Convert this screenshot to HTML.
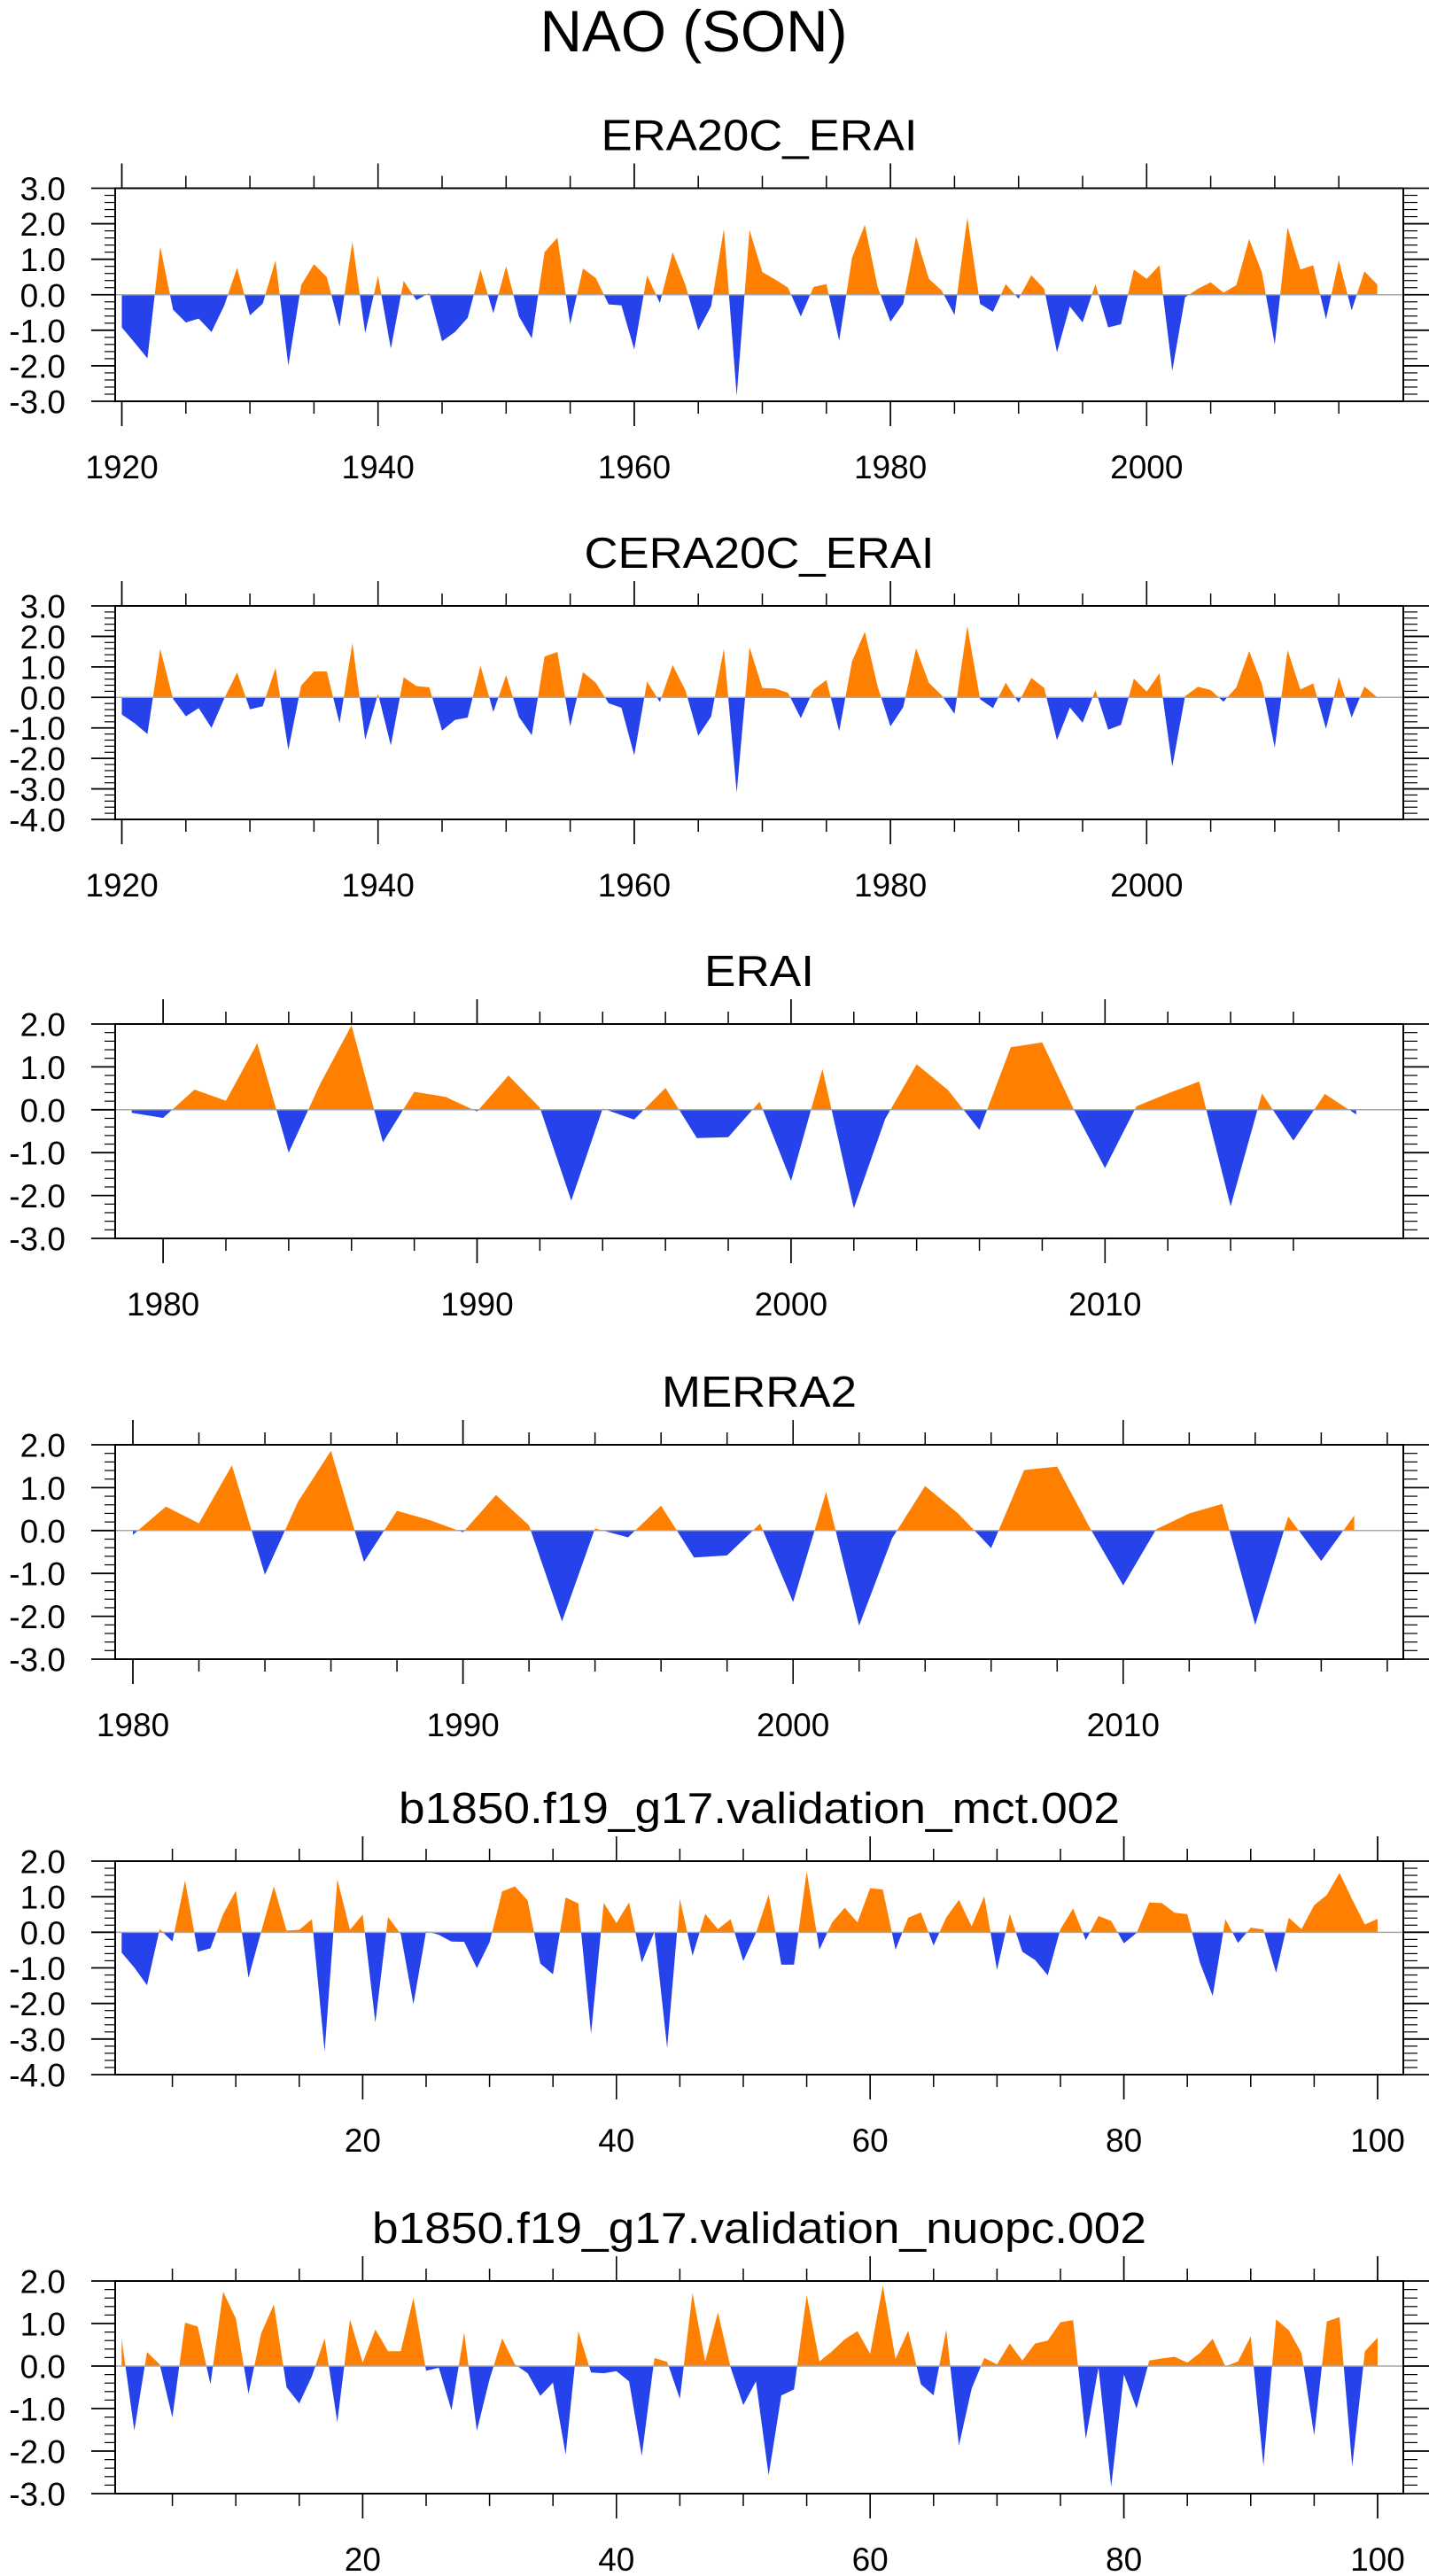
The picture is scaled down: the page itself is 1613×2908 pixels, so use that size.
<!DOCTYPE html>
<html><head><meta charset="utf-8"><style>
html,body{margin:0;padding:0;background:#fff;}
svg{display:block;font-family:"Liberation Sans",sans-serif;}
</style></head><body>
<svg id="fig" width="1613" height="2908" viewBox="0 0 1613 2908" xmlns="http://www.w3.org/2000/svg">
<text x="783" y="58" font-size="66" text-anchor="middle" textLength="347" lengthAdjust="spacingAndGlyphs">NAO (SON)</text>
</svg>
<script>
// ---- data ----
const era20cYears = [1920, 2018];
const era20cValues = [-0.92,-1.35,-1.79,1.35,-0.42,-0.78,-0.67,-1.05,-0.3,0.76,-0.58,-0.25,0.97,-2.0,0.27,0.86,0.5,-0.9,1.49,-1.08,0.53,-1.52,0.39,-0.15,0.05,-1.31,-1.05,-0.65,0.71,-0.52,0.8,-0.61,-1.23,1.2,1.61,-0.83,0.74,0.47,-0.27,-0.3,-1.54,0.55,-0.23,1.2,0.27,-1.0,-0.32,1.86,-2.85,1.82,0.64,0.43,0.2,-0.61,0.22,0.3,-1.29,1.04,1.97,0.22,-0.76,-0.25,1.64,0.45,0.12,-0.57,2.18,-0.26,-0.48,0.3,-0.11,0.55,0.17,-1.62,-0.33,-0.78,0.3,-0.92,-0.83,0.71,0.45,0.83,-2.14,-0.07,0.17,0.35,0.06,0.27,1.57,0.62,-1.4,1.9,0.71,0.83,-0.69,0.97,-0.44,0.66,0.29];
const cera20cValues = [-0.56,-0.85,-1.2,1.59,-0.05,-0.62,-0.35,-1.0,-0.03,0.82,-0.39,-0.29,0.97,-1.72,0.39,0.85,0.85,-0.85,1.78,-1.39,0.12,-1.58,0.66,0.37,0.33,-1.09,-0.74,-0.66,1.04,-0.48,0.73,-0.64,-1.24,1.34,1.49,-0.95,0.83,0.48,-0.19,-0.34,-1.9,0.52,-0.15,1.06,0.23,-1.26,-0.63,1.6,-3.13,1.65,0.31,0.29,0.15,-0.68,0.25,0.57,-1.11,1.18,2.15,0.36,-0.95,-0.32,1.61,0.48,0.07,-0.54,2.34,-0.06,-0.35,0.48,-0.17,0.64,0.31,-1.4,-0.33,-0.83,0.24,-1.06,-0.9,0.62,0.19,0.79,-2.27,0.04,0.35,0.24,-0.14,0.33,1.52,0.43,-1.65,1.55,0.26,0.46,-1.03,0.67,-0.66,0.36,0.0];
const eraiValues = [-0.07,-0.19,0.47,0.21,1.55,-1.0,0.6,1.97,-0.76,0.42,0.3,-0.04,0.8,0.05,-2.12,0.03,-0.23,0.51,-0.66,-0.64,0.19,-1.66,0.95,-2.3,-0.21,1.06,0.46,-0.47,1.46,1.57,0.02,-1.36,0.08,0.38,0.66,-2.25,0.38,-0.72,0.37,-0.11];
const merra2Values = [-0.1,0.56,0.17,1.52,-1.03,0.67,1.86,-0.73,0.46,0.24,-0.04,0.83,0.12,-2.12,0.05,-0.16,0.58,-0.63,-0.58,0.16,-1.67,0.9,-2.22,-0.18,1.04,0.4,-0.41,1.41,1.49,0.05,-1.28,0.03,0.4,0.62,-2.2,0.33,-0.71,0.35];
const mctValues = [-0.57,-0.99,-1.49,0.09,-0.26,1.46,-0.55,-0.45,0.51,1.17,-1.28,0.02,1.29,0.05,0.07,0.37,-3.35,1.49,0.07,0.5,-2.54,0.43,-0.05,-2.02,0.03,-0.07,-0.26,-0.27,-1.01,-0.28,1.15,1.29,0.9,-0.88,-1.18,0.98,0.81,-2.85,0.83,0.26,0.84,-0.85,0.02,-3.25,0.94,-0.66,0.52,0.09,0.37,-0.81,-0.02,1.06,-0.91,-0.91,1.71,-0.49,0.28,0.69,0.28,1.24,1.2,-0.49,0.41,0.56,-0.37,0.42,0.91,0.17,1.01,-1.06,0.52,-0.55,-0.78,-1.21,0.09,0.67,-0.22,0.46,0.32,-0.31,-0.02,0.84,0.82,0.55,0.51,-0.86,-1.79,0.37,-0.3,0.13,0.08,-1.14,0.41,0.09,0.76,1.05,1.67,0.92,0.22,0.38];
const nuopcValues = [0.65,-1.52,0.33,0.04,-1.21,1.02,0.93,-0.43,1.75,1.12,-0.65,0.77,1.45,-0.5,-0.88,-0.24,0.65,-1.32,1.1,0.08,0.86,0.35,0.35,1.6,-0.11,-0.04,-1.04,0.79,-1.52,-0.31,0.65,0.04,-0.17,-0.7,-0.39,-2.08,0.82,-0.15,-0.17,-0.12,-0.36,-2.11,0.19,0.1,-0.77,1.72,0.11,1.26,-0.03,-0.92,-0.36,-2.57,-0.69,-0.55,1.67,0.11,0.35,0.63,0.82,0.29,1.89,0.17,0.83,-0.43,-0.69,0.86,-1.87,-0.53,0.19,0.04,0.53,0.13,0.53,0.6,1.03,1.08,-1.72,-0.03,-2.84,-0.2,-1.0,0.13,0.18,0.22,0.08,0.31,0.64,-0.01,0.11,0.7,-2.34,1.1,0.84,0.31,-1.63,1.05,1.15,-2.36,0.35,0.67];
const yearTicksLong = ["1920","1940","1960","1980","2000"];
const yearTicksShort = ["1980","1990","2000","2010"];
const indexTicks = ["20","40","60","80","100"];

// ---- layout ----
const NS = "http://www.w3.org/2000/svg";
const svg = document.getElementById("fig");
const FL = 130, FR = 1584;
const panels = [
 {key:"era20c-erai", title:"ERA20C_ERAI", tw:357, top:212.5, bot:453, ymin:-3, ymax:3, vals:era20cValues, x0:1920, xa:137.5, xs:14.46, majors:yearTicksLong, majorStep:20, minorFrom:1920, minorTo:2015, minorStep:5},
 {key:"cera20c-erai", title:"CERA20C_ERAI", tw:395, top:684, bot:925, ymin:-4, ymax:3, vals:cera20cValues, x0:1920, xa:137.5, xs:14.46, majors:yearTicksLong, majorStep:20, minorFrom:1920, minorTo:2015, minorStep:5},
 {key:"erai", title:"ERAI", tw:124, top:1156, bot:1398, ymin:-3, ymax:2, vals:eraiValues, x0:1979, xa:184.1, xs:35.44, majors:yearTicksShort, majorStep:10, minorFrom:1980, minorTo:2016, minorStep:2, majorBase:1980},
 {key:"merra2", title:"MERRA2", tw:220, top:1631, bot:1873, ymin:-3, ymax:2, vals:merra2Values, x0:1980, xa:150, xs:37.26, majors:yearTicksShort, majorStep:10, minorFrom:1980, minorTo:2018, minorStep:2},
 {key:"mct", title:"b1850.f19_g17.validation_mct.002", tw:814, top:2101, bot:2342, ymin:-4, ymax:2, vals:mctValues, x0:1, xa:137.3, xs:14.32, majors:indexTicks, majorStep:20, minorFrom:5, minorTo:100, minorStep:5},
 {key:"nuopc", title:"b1850.f19_g17.validation_nuopc.002", tw:874, top:2575, bot:2815, ymin:-3, ymax:2, vals:nuopcValues, x0:1, xa:137.3, xs:14.32, majors:indexTicks, majorStep:20, minorFrom:5, minorTo:100, minorStep:5}
];
panels.forEach(p => { if (p.key==="erai") { p.xa = 184.1 - 35.44; } });

function mk(tag, attrs, parent) {
  const e = document.createElementNS(NS, tag);
  for (const k in attrs) e.setAttribute(k, attrs[k]);
  (parent || svg).appendChild(e);
  return e;
}

panels.forEach((p, pi) => {
  const g = mk("g", {});
  
  
  const xOf = v => p.xa + p.xs * (v - p.x0);
  const yOf = v => p.top + (p.ymax - v) / (p.ymax - p.ymin) * (p.bot - p.top);
  const y0 = yOf(0);
  // title
  const t = mk("text", {x: (FL+FR)/2, y: p.top - 43, "font-size": 49, "text-anchor": "middle", textLength: p.tw, lengthAdjust: "spacingAndGlyphs"}, g);
  t.textContent = p.title;
  
  
  // clip paths
  const defs = mk("defs", {}, g);
  const cpA = mk("clipPath", {id: "ca" + pi}, defs);
  mk("rect", {x: FL, y: p.top, width: FR-FL, height: y0 - p.top}, cpA);
  const cpB = mk("clipPath", {id: "cb" + pi}, defs);
  mk("rect", {x: FL, y: y0, width: FR-FL, height: p.bot - y0}, cpB);
  let d = "M" + xOf(p.x0).toFixed(2) + "," + y0.toFixed(2);
  p.vals.forEach((v, i) => { d += " L" + xOf(p.x0 + i).toFixed(2) + "," + yOf(v).toFixed(2); });
  d += " L" + xOf(p.x0 + p.vals.length - 1).toFixed(2) + "," + y0.toFixed(2) + " Z";
  const pos = mk("path", {d: d, fill: "#ff8000", "clip-path": "url(#ca" + pi + ")"}, g);
  
  
  const neg = mk("path", {d: d, fill: "#2642eb", "clip-path": "url(#cb" + pi + ")"}, g);
  
  
  const zl = mk("line", {x1: FL, x2: FR, y1: y0, y2: y0, stroke: "#a8a8a8", "stroke-width": 1.5}, g);
  
  
  // frame
  const fr = mk("rect", {x: FL, y: p.top, width: FR-FL, height: p.bot-p.top, fill: "none", stroke: "#000", "stroke-width": 2}, g);
  
  
  // x ticks
  const majorVals = p.majors.map(s => parseFloat(s));
  for (let v = p.minorFrom; v <= p.minorTo + 1e-6; v += p.minorStep) {
    const x = xOf(v);
    if (x < FL || x > FR) continue;
    const isMaj = majorVals.some(m => Math.abs(m - v) < 1e-6);
    const L = isMaj ? 28 : 14;
    mk("line", {x1: x, x2: x, y1: p.top - L, y2: p.top, stroke: "#000", "stroke-width": 1.5}, g);
    mk("line", {x1: x, x2: x, y1: p.bot, y2: p.bot + L, stroke: "#000", "stroke-width": 1.5}, g);
  }
  p.majors.forEach(s => {
    const x = xOf(parseFloat(s));
    mk("line", {x1: x, x2: x, y1: p.top - 28, y2: p.top, stroke: "#000", "stroke-width": 1.5}, g);
    mk("line", {x1: x, x2: x, y1: p.bot, y2: p.bot + 28, stroke: "#000", "stroke-width": 1.5}, g);
    const lt = mk("text", {x: x, y: p.bot + 87, "font-size": 37, "text-anchor": "middle"}, g);
    lt.textContent = s;
    
    
  });
  // y ticks
  const nMinor = Math.round((p.ymax - p.ymin) / 0.2);
  for (let k = 0; k <= nMinor; k++) {
    const v = p.ymin + k * 0.2;
    const y = yOf(v);
    const isMaj = k % 5 === 0;
    mk("line", {x1: FL - (isMaj ? 27 : 12), x2: FL, y1: y, y2: y, stroke: "#000", "stroke-width": isMaj ? 1.8 : 1.2}, g);
    mk("line", {x1: FR, x2: FR + (isMaj ? 29 : 16), y1: y, y2: y, stroke: "#000", "stroke-width": isMaj ? 1.8 : 1.2}, g);
    if (isMaj) {
      const yt = mk("text", {x: 74, y: y + 13.5, "font-size": 37, "text-anchor": "end"}, g);
      yt.textContent = v.toFixed(1);
      
      
    }
  }
});
</script>
</body></html>
